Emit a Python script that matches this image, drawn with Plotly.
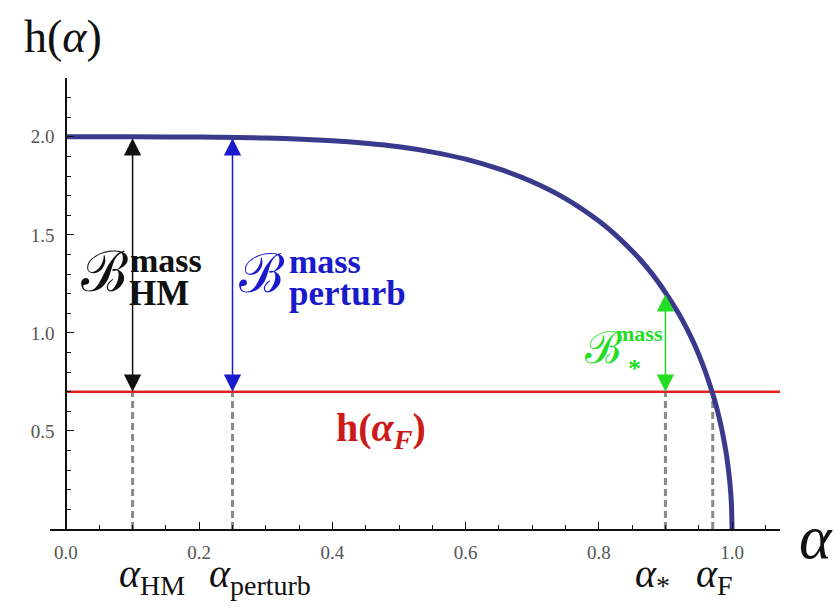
import plotly.graph_objects as go

# Curve h(alpha)
alpha_curve = [0.0, 0.1, 0.2, 0.3, 0.4, 0.45, 0.5, 0.55, 0.6, 0.65, 0.7, 0.75, 0.8,
               0.82, 0.85, 0.86, 0.88, 0.9, 0.92, 0.93, 0.94, 0.95, 0.96, 0.97,
               0.975, 0.98, 0.985, 0.99, 0.992, 0.995, 0.997, 0.999, 1.0]
h_curve = [2.0, 2.0, 1.999, 1.994, 1.98, 1.967, 1.949, 1.922, 1.886, 1.836, 1.771,
           1.685, 1.571, 1.515, 1.418, 1.382, 1.301, 1.206, 1.098, 1.036, 0.967,
           0.89, 0.802, 0.70, 0.643, 0.577, 0.502, 0.411, 0.369, 0.29, 0.227, 0.131, 0.0]

# Marker positions
alpha_marks = [0.1, 0.25, 0.9, 0.971]
alpha_names = ["HM", "perturb", "*", "F"]
h_F = 0.7
h_top = [2.0, 2.0, 1.205]
arrow_colors = ["#111111", "#1a1acc", "#22dd22"]

x_range = [-0.024, 1.072]
y_range = [0.0, 2.3]

fig = go.Figure()

# dashed verticals
for a in alpha_marks:
    fig.add_trace(go.Scatter(x=[a, a], y=[0, h_F], mode="lines",
                             line=dict(color="#8a8a8a", width=3, dash="7px,4px"),
                             hoverinfo="skip", showlegend=False))

# red horizontal line h(alpha_F)
fig.add_trace(go.Scatter(x=[0, x_range[1]], y=[h_F, h_F], mode="lines",
                         line=dict(color="#e02424", width=2.5),
                         hoverinfo="skip", showlegend=False))

# main curve
fig.add_trace(go.Scatter(x=alpha_curve, y=h_curve, mode="lines",
                         line=dict(color="#3a3a8c", width=5, shape="spline", smoothing=0.8),
                         hoverinfo="skip", showlegend=False))

annotations = []
# double arrows
for a, top, col in zip(alpha_marks[:3], h_top, arrow_colors):
    annotations.append(dict(x=a, y=h_F, ax=a, ay=top, xref="x", yref="y", axref="x", ayref="y",
                            text="", showarrow=True, arrowhead=2, startarrowhead=2,
                            arrowside="end+start", arrowsize=2.3, startarrowsize=2.3,
                            arrowwidth=1.5, arrowcolor=col))

serif = "Liberation Serif, Times New Roman, serif"
ALPHA = "<i>α</i>"

def txt(px, py, s, size, color="#111111", xanchor="center", yanchor="middle", bold=False):
    # position given in picture pixels, converted to paper coordinates
    if bold:
        s = "<b>" + s + "</b>"
    annotations.append(dict(x=(px - 50) / 730.0, y=(529 - py) / 451.0,
                            xref="paper", yref="paper", text=s, showarrow=False,
                            font=dict(family=serif, size=size, color=color),
                            xanchor=xanchor, yanchor=yanchor, borderpad=0))

# B^mass_HM (black)
txt(104, 272, "ℬ", 56)
txt(129, 260, "mass", 34, xanchor="left", bold=True)
txt(128, 293, "HM", 35, xanchor="left", bold=True)
# B^mass_perturb (blue)
blue = "#1a1acc"
txt(262, 274, "ℬ", 54, color=blue)
txt(288, 261, "mass", 34, color=blue, xanchor="left", bold=True)
txt(288, 293, "perturb", 35, color=blue, xanchor="left", bold=True)
# B^mass_* (green)
green = "#22dd22"
txt(603, 348, "ℬ", 44, color=green)
txt(664, 333, "mass", 22, color=green, xanchor="right", bold=True)
txt(627, 368, "*", 26, color=green, xanchor="left", bold=True)
# h(alpha_F)
red = "#cc1a1a"
txt(381, 430, "h(<i>α</i><sub><i>F</i></sub>)", 40, color=red, bold=True)

# bottom alpha labels
bottom_px = [152, 260, 652, 714]
for a_px, name in zip(bottom_px, alpha_names):
    txt(a_px, 576, ALPHA + "<sub>" + name + "</sub>", 40)

# axis titles
txt(63, 36, "h(" + ALPHA + ")", 46)
txt(816, 537, ALPHA, 62)

tickfont = dict(family=serif, size=19, color="#555555")
fig.update_layout(
    width=836, height=610,
    margin=dict(l=50, r=56, t=78, b=81),
    paper_bgcolor="white", plot_bgcolor="white",
    showlegend=False,
    annotations=annotations,
    xaxis=dict(range=x_range, showgrid=False, zeroline=False,
               showline=True, linecolor="#111111", linewidth=1.5,
               tickmode="array", tickvals=[0.0, 0.2, 0.4, 0.6, 0.8, 1.0],
               ticktext=["0.0", "0.2", "0.4", "0.6", "0.8", "1.0"],
               ticks="inside", ticklen=7, tickwidth=1.2, tickcolor="#111111",
               minor=dict(tickmode="linear", tick0=0, dtick=0.05, ticks="inside",
                          ticklen=4, tickwidth=1, tickcolor="#111111"),
               tickfont=tickfont, ticklabelstandoff=5),
    yaxis=dict(range=y_range, showgrid=False, zeroline=False,
               anchor="free", position=0.024 / 1.096,
               showline=True, linecolor="#111111", linewidth=1.5,
               tickmode="array", tickvals=[0.5, 1.0, 1.5, 2.0],
               ticktext=["0.5", "1.0", "1.5", "2.0"],
               ticks="inside", ticklen=7, tickwidth=1.2, tickcolor="#111111",
               minor=dict(tickmode="linear", tick0=0, dtick=0.1, ticks="inside",
                          ticklen=4, tickwidth=1, tickcolor="#111111"),
               tickfont=tickfont, ticklabelstandoff=7),
)

fig.write_html("out.html")
